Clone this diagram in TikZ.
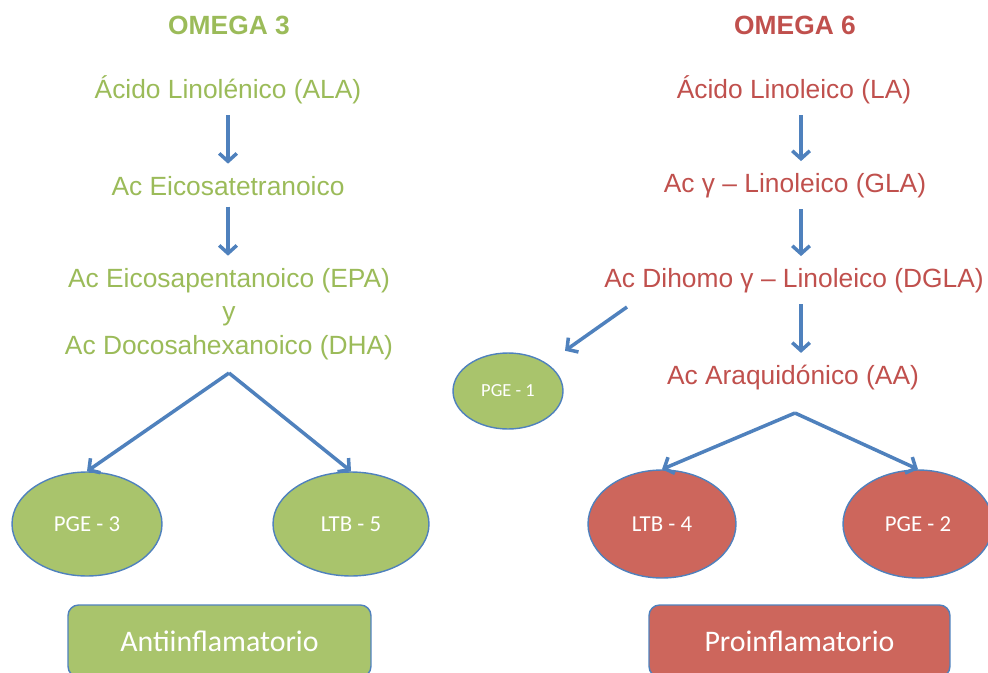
\documentclass[tikz,border=0pt]{standalone}
\usepackage{fontspec}
\setmainfont{Liberation Sans}
\newfontfamily\elfont{Carlito}
\usetikzlibrary{arrows.meta}
\usetikzlibrary{shapes.geometric}
\definecolor{gtx}{HTML}{9BBB59}
\definecolor{rtx}{HTML}{C0504D}
\definecolor{gfl}{HTML}{A9C46C}
\definecolor{rfl}{HTML}{CD665C}
\definecolor{abl}{HTML}{4F81BD}
\tikzset{
  t3/.style={inner sep=1pt,font=\fontsize{15}{19}\selectfont,text=gtx,align=center},
  t6/.style={inner sep=1pt,font=\fontsize{15}{19}\selectfont,text=rtx,align=center},
  hd/.style={inner sep=1pt,font=\fontsize{15}{18}\selectfont\bfseries},
  ar/.style={abl,line width=2pt,-{Straight Barb[length=4.5pt,width=10pt]}},
  vr/.style={ar,shorten <=5pt,shorten >=6pt},
  el/.style={ellipse,draw=abl,line width=.8pt,inner sep=0pt,text=white,font=\elfont\fontsize{13}{15}\selectfont},
  bx/.style={draw=abl,line width=.8pt,rounded corners=6pt,text=white,minimum height=1.44cm,font=\elfont\fontsize{17}{20}\selectfont}
}

\begin{document}
\begin{tikzpicture}[x=0.02cm,y=-0.02cm]
    \useasboundingbox (0,0) rectangle (988,673);
    % omega 3
    \node[hd,gtx] (h3) at (229,25) {OMEGA 3};
    \node[t3] (ala) at (228,90) {Ácido Linolénico (ALA)};
    \node[t3] (eic) at (228,186) {Ac Eicosatetranoico};
    \node[t3] (epa) at (229,314) {Ac Eicosapentanoico (EPA)\\y\\Ac Docosahexanoico (DHA)};
    \coordinate (b3) at (229,373);
    \node[el,fill=gfl,minimum width=3cm,minimum height=2.08cm] (pge3) at (87,524) {PGE - 3};
    \node[el,fill=gfl,minimum width=3.12cm,minimum height=2.08cm] (ltb5) at (351,524) {LTB - 5};
    \node[bx,fill=gfl,minimum width=6.06cm] (anti) at (219.5,641) {Antiinflamatorio};
    \draw[vr] (ala) -- (eic);
    \draw[vr] (eic.south) -- (eic.south |- epa.north);
    \draw[ar] (b3) -- (pge3.north);
    \draw[ar] (b3) -- (ltb5.north);
    % omega 6
    \node[hd,rtx] (h6) at (795,25) {OMEGA 6};
    \node[t6] (la) at (794,90) {Ácido Linoleico (LA)};
    \node[t6] (gla) at (795,186) {Ac γ – Linoleico (GLA)};
    \node[t6] (dgla) at (794,281) {Ac Dihomo γ – Linoleico (DGLA)};
    \node[t6] (aa) at (793,378) {Ac Araquidónico (AA)};
    \coordinate (d1) at (627,307);
    \coordinate (b6) at (795,413);
    \node[el,fill=gfl,minimum width=2.2cm,minimum height=1.52cm,font=\elfont\fontsize{10.5}{12}\selectfont] (pge1) at (508,391) {PGE - 1};
    \node[el,fill=rfl,minimum width=2.96cm,minimum height=2.16cm] (ltb4) at (662,524) {LTB - 4};
    \node[el,fill=rfl,minimum width=3cm,minimum height=2.16cm] (pge2) at (918,524) {PGE - 2};
    \node[bx,fill=rfl,minimum width=6.02cm] (pro) at (799.5,641) {Proinflamatorio};
    \draw[vr] ([xshift=4] la.south) -- ([xshift=4] la.south |- gla.north);
    \draw[vr] ([xshift=4] la.south |- gla.south) -- ([xshift=4] la.south |- dgla.north);
    \draw[vr] ([xshift=4] la.south |- dgla.south) -- ([xshift=4] la.south |- aa.north);
    \draw[ar,shorten >=0.44cm] (d1) -- (pge1);
    \draw[ar] (b6) -- (ltb4.north);
    \draw[ar] (b6) -- (pge2.north);
\end{tikzpicture}
\end{document}
